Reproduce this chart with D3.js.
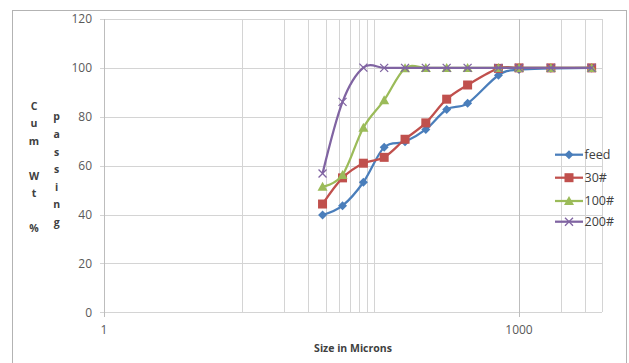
<!DOCTYPE html>
<html>
<head>
<meta charset="utf-8">
<script src="https://cdn.jsdelivr.net/npm/d3@7"></script>
<style>
  html, body { margin: 0; padding: 0; background: #fff; }
  svg { display: block; font-family: "Open Sans", "Liberation Sans", sans-serif; }
</style>
</head>
<body>
<svg id="chart" width="629" height="363"></svg>
<script>
// ---- data ----
const sizes = [38, 53, 75, 106, 150, 212, 300, 425, 710, 1000, 1700, 3350];
const feed  = [39.8, 43.6, 53.2, 67.5, 69.8, 74.8, 83.0, 85.5, 97.0, 99.3, 99.8, 100];
const m30   = [44.3, 55.0, 61.0, 63.4, 70.8, 77.5, 87.2, 93.0, 99.8, 100, 100, 100];
const m100  = [51.4, 56.2, 75.5, 86.8, 99.8, 100, 100, 100, 100, 100, 100, 100];
const m200  = [56.8, 86.1, 100.1, 100, 100, 100, 100, 100, 100, 100, 100, 100];
const seriesNames = ["feed", "30#", "100#", "200#"];
const yTicks = [0, 20, 40, 60, 80, 100, 120];
const xTickLabels = [1, 1000];
const xMinorGrid = [10, 20, 30, 40, 50, 60, 70, 80, 90, 2000, 3000];
const xTitle = "Size in Microns";
const yTitleCol1 = "Cum Wt %";
const yTitleCol2 = "passing";

// ---- layout ----
const svg = d3.select("#chart");
const colors = ["#4a7ebb", "#c0504d", "#9bbb59", "#8064a2"];
const markers = ["diamond", "square", "triangle", "x"];
const x = d3.scaleLog().domain([1, 4000]).range([104, 602.3]);
const y = d3.scaleLinear().domain([0, 120]).range([312.3, 19]);

// outer chart border
svg.append("rect").attr("x", 12.5).attr("y", 10.5).attr("width", 614).attr("height", 360)
  .attr("fill", "none").attr("stroke", "#b3b3b3").attr("stroke-width", 1);

const grid = svg.append("g").attr("stroke", "#d4d4d4").attr("stroke-width", 1).attr("shape-rendering", "crispEdges");
grid.selectAll("line.h").data(yTicks).join("line")
  .attr("x1", 100).attr("x2", x.range()[1])
  .attr("y1", d => Math.round(y(d)) + 0.5).attr("y2", d => Math.round(y(d)) + 0.5);
grid.selectAll("line.v").data(xMinorGrid).join("line")
  .attr("x1", d => Math.round(x(d)) + 0.5).attr("x2", d => Math.round(x(d)) + 0.5)
  .attr("y1", y(120)).attr("y2", y(0));
grid.selectAll("line.m").data(xTickLabels).join("line")
  .attr("stroke", "#bdbdbd")
  .attr("x1", d => Math.round(x(d)) + 0.5).attr("x2", d => Math.round(x(d)) + 0.5)
  .attr("y1", y(120)).attr("y2", y(0) + 5);
grid.append("line").attr("x1", Math.round(x.range()[1]) + 0.5).attr("x2", Math.round(x.range()[1]) + 0.5)
  .attr("y1", y(120)).attr("y2", y(0));

// y tick labels
svg.append("g").selectAll("text").data(yTicks).join("text")
  .attr("x", 92).attr("y", d => y(d) + 4.2)
  .attr("text-anchor", "end").attr("font-size", 12).attr("fill", "#595959")
  .text(d => d);
// x tick labels
svg.append("g").selectAll("text").data(xTickLabels).join("text")
  .attr("x", d => x(d)).attr("y", 333.5)
  .attr("text-anchor", "middle").attr("font-size", 12).attr("fill", "#595959")
  .text(d => d);

// axis titles
svg.append("text").attr("x", 353).attr("y", 352).attr("text-anchor", "middle")
  .attr("font-size", 10.5).attr("font-weight", "bold").attr("fill", "#404040").text(xTitle);
function stacked(str, cx, cy0, step) {
  svg.append("g").selectAll("text").data(str.split("")).join("text")
    .attr("x", cx).attr("y", (d, i) => cy0 + i * step + 3.8)
    .attr("text-anchor", "middle").attr("font-size", 10.5).attr("font-weight", "bold").attr("fill", "#404040")
    .text(d => d);
}
stacked(yTitleCol1, 34, 105.7, 17.5);
stacked(yTitleCol2, 56.7, 116.5, 17.6);

// series
const allSeries = [feed, m30, m100, m200];
const line = d3.line().x(d => x(d[0])).y(d => y(d[1])).curve(d3.curveCardinal.tension(0));

function drawMarker(g, type, color) {
  if (type === "diamond") {
    g.append("path").attr("d", "M0,-4.5L4.5,0L0,4.5L-4.5,0Z").attr("fill", color);
  } else if (type === "square") {
    g.append("rect").attr("x", -4.5).attr("y", -4.5).attr("width", 9).attr("height", 9).attr("fill", color);
  } else if (type === "triangle") {
    g.append("path").attr("d", "M0,-5L5,4L-5,4Z").attr("fill", color);
  } else {
    g.append("path").attr("d", "M-4,-4L4,4M-4,4L4,-4").attr("stroke", color).attr("stroke-width", 1.3).attr("fill", "none");
  }
}

allSeries.forEach((vals, si) => {
  const pts = sizes.map((s, i) => [s, vals[i]]);
  const g = svg.append("g");
  g.append("path").datum(pts).attr("d", line).attr("fill", "none")
    .attr("stroke", colors[si]).attr("stroke-width", 2.25).attr("stroke-linejoin", "round");
  pts.forEach(p => {
    const mg = g.append("g").attr("transform", `translate(${x(p[0])},${y(p[1])})`);
    drawMarker(mg, markers[si], colors[si]);
  });
});

// legend
const legendY = [154.7, 177.7, 201, 221.7];
const lg = svg.append("g");
seriesNames.forEach((name, i) => {
  const gy = legendY[i];
  lg.append("line").attr("x1", 555).attr("x2", 583).attr("y1", gy).attr("y2", gy)
    .attr("stroke", colors[i]).attr("stroke-width", 2.25);
  const mg = lg.append("g").attr("transform", `translate(569,${gy})`);
  drawMarker(mg, markers[i], colors[i]);
  lg.append("text").attr("x", 584.5).attr("y", gy + 4.4).attr("font-size", 12.5).attr("fill", "#404040").text(name);
});
</script>
</body>
</html>
